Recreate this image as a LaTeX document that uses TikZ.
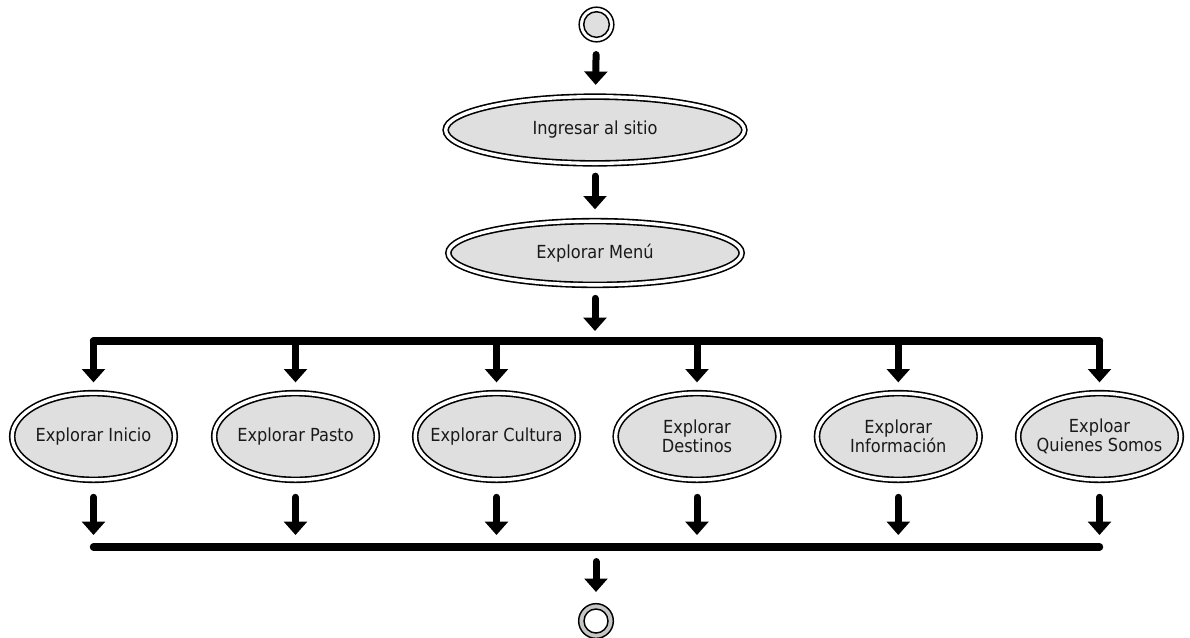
\documentclass[tikz,border=0pt]{standalone}
\usepackage{fontspec}
\setmainfont{DejaVu Sans Condensed}
\usetikzlibrary{arrows.meta,shapes.geometric,positioning}

\tikzset{
  estado/.style={ellipse, draw, double, line width=1.2pt, double distance=2.5pt,
    fill=gray!25, inner sep=0pt, text=black!90, align=center,
    font=\fontsize{13.5}{14.3}\selectfont},
  menor/.style={estado, inner xsep=-15pt, minimum width=122pt, minimum height=65pt},
  inicial/.style={circle, draw, line width=1.1pt, minimum size=26pt, inner sep=0pt,
    path picture={\draw[line width=1.1pt, fill=gray!25] (path picture bounding box.center) circle (9.6pt);}},
  final/.style={circle, draw, line width=1.1pt, minimum size=26pt, inner sep=0pt, fill=gray!45,
    path picture={\draw[line width=1.1pt, fill=white] (path picture bounding box.center) circle (9pt);}},
  flecha/.style={line width=5.25pt, line cap=round, -{Triangle[width=17pt,length=10pt]}},
  barra/.style={line width=5.6pt, line cap=round},
}

\begin{document}
\begin{tikzpicture}[x=0.75pt,y=-0.75pt]
\useasboundingbox (0,0) rectangle (1190,637);
% inicio y pasos principales
\node[inicial] (ini) at (596.5,24.5) {};
\node[estado, minimum width=224pt, minimum height=50pt] (ingresar) at (595,130) {Ingresar al sitio};
\node[estado, minimum width=220pt, minimum height=47.8pt] (menu) at (595,253) {Explorar Menú};
\coordinate (barA) at (595,341);
% opciones del menu
\node[menor] (exInicio) at (93.5,436.5) {Explorar Inicio};
\node[menor] (exPasto) at (295.5,436.5) {Explorar Pasto};
\node[menor] (exCultura) at (496.5,436.5) {Explorar Cultura};
\node[menor] (exDestinos) at (697,436.5) {Explorar\\Destinos};
\node[menor] (exInfo) at (898.3,436.5) {Explorar\\Información};
\node[menor] (exQuienes) at (1099.5,436.5) {Exploar\\Quienes Somos};
\coordinate (barB) at (596,547);
\node[final] (fin) at (596,621) {};
% flechas
\draw[flecha, shorten <=9pt, shorten >=8.25pt] (ini) -- (ingresar);
\draw[flecha, shorten <=9pt, shorten >=8.25pt] (ingresar) -- (menu);
\draw[flecha, shorten <=9.5pt, shorten >=7.5pt] (menu) -- (barA);
\draw[barra] (exInicio |- barA) -- (exQuienes |- barA);
\draw[flecha, shorten >=7.5pt] (exInicio |- barA) -- (exInicio);
\draw[flecha, shorten >=7.5pt] (exPasto |- barA) -- (exPasto);
\draw[flecha, shorten >=7.5pt] (exCultura |- barA) -- (exCultura);
\draw[flecha, shorten >=7.5pt] (exDestinos |- barA) -- (exDestinos);
\draw[flecha, shorten >=7.5pt] (exInfo |- barA) -- (exInfo);
\draw[flecha, shorten >=7.5pt] (exQuienes |- barA) -- (exQuienes);
\draw[flecha, shorten <=12.5pt, shorten >=9pt] (exInicio) -- (exInicio |- barB);
\draw[flecha, shorten <=12.5pt, shorten >=9pt] (exPasto) -- (exPasto |- barB);
\draw[flecha, shorten <=12.5pt, shorten >=9pt] (exCultura) -- (exCultura |- barB);
\draw[flecha, shorten <=12.5pt, shorten >=9pt] (exDestinos) -- (exDestinos |- barB);
\draw[flecha, shorten <=12.5pt, shorten >=9pt] (exInfo) -- (exInfo |- barB);
\draw[flecha, shorten <=12.5pt, shorten >=9pt] (exQuienes) -- (exQuienes |- barB);
\draw[barra] (exInicio |- barB) -- (exQuienes |- barB);
\draw[flecha, shorten <=10.9pt, shorten >=8.25pt] (barB) -- (fin);
\end{tikzpicture}
\end{document}
